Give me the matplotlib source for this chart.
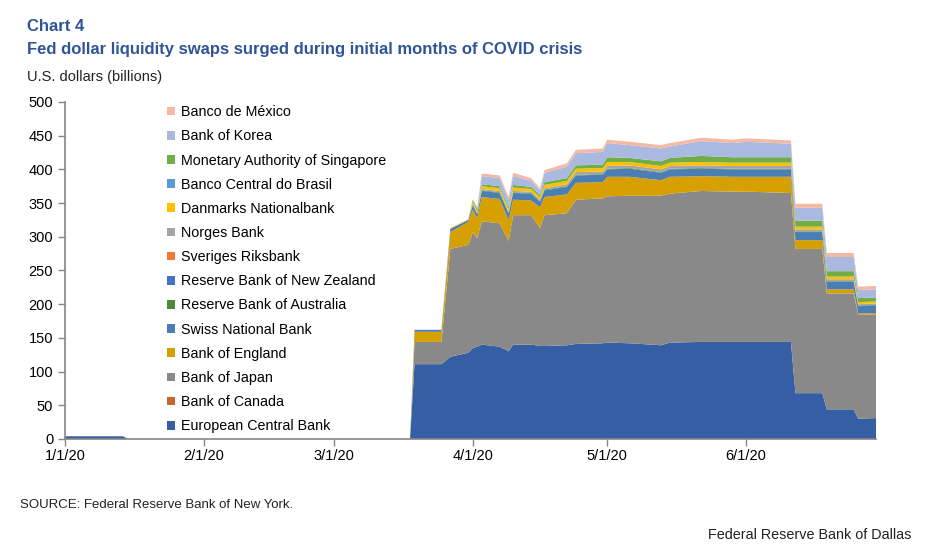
import pandas as pd
import matplotlib
matplotlib.use("Agg")
import matplotlib.pyplot as plt
from matplotlib.patches import Patch

plt.rcParams['font.family'] = ['Liberation Sans', 'DejaVu Sans']

# dates of the observations (Excel joins them with straight lines)
dates = pd.to_datetime([
    "2020-01-01", "2020-01-14", "2020-01-15", "2020-03-18", "2020-03-19",
    "2020-03-25", "2020-03-27", "2020-03-31", "2020-04-01", "2020-04-02",
    "2020-04-03", "2020-04-07", "2020-04-09", "2020-04-10", "2020-04-14",
    "2020-04-16", "2020-04-17", "2020-04-22", "2020-04-24", "2020-04-30",
    "2020-05-01", "2020-05-06", "2020-05-13", "2020-05-15", "2020-05-22",
    "2020-05-29", "2020-06-01", "2020-06-11", "2020-06-12", "2020-06-18",
    "2020-06-19", "2020-06-25", "2020-06-26", "2020-06-30"])

# U.S. dollars, billions
ecb = [4, 4, 0, 0, 111, 111, 122, 128, 135, 137, 140, 137, 130, 140, 140, 138, 138,
       139, 141, 142, 143, 142, 139, 143, 144, 144, 144, 144, 68, 68, 44, 44, 30, 31]
canada = [0] * 34
japan = [0, 0, 0, 0, 33, 33, 160, 160, 172, 161, 183, 183, 164, 192, 192, 175, 194,
         196, 214, 215, 217, 219, 222, 221, 224, 223, 223, 221, 214, 214, 172, 172, 154, 154]
england = [0, 0, 0, 0, 15, 15, 25, 34, 33, 30, 36, 36, 31, 23, 22, 31, 27,
           28, 25, 24, 29, 28, 23, 25, 22, 22, 22, 24, 13, 13, 6, 6, 2, 2]
swiss = [0, 0, 0, 0, 3, 3, 5, 3, 6, 6, 9, 9, 9, 10, 10, 8, 10,
         11, 11, 11, 11, 12, 11, 11, 11, 11, 11, 11, 12, 12, 11, 11, 11, 11]
australia = [0, 0, 0, 0, 0, 0, 0, 0, 2, 0, 1, 1, 1, 1, 1, 1, 1,
             1, 1, 1, 1, 1, 1, 1, 1, 1, 1, 1, 1, 1, 1, 1, 1, 1]
new_zealand = [0] * 34
sweden = [0] * 34
norway = [0, 0, 0, 0, 0, 0, 0, 0, 1, 1, 2, 2, 2, 2, 2, 2, 2,
          3, 4, 4, 4, 4, 4, 4, 4, 4, 4, 4, 3, 3, 3, 3, 2, 2]
denmark = [0, 0, 0, 0, 0, 0, 1, 1, 3, 3, 4, 4, 4, 5, 4, 4, 5,
           5, 5, 5, 6, 5, 5, 5, 5, 5, 5, 5, 4, 4, 4, 4, 3, 3]
brazil = [0] * 34
singapore = [0, 0, 0, 0, 0, 0, 0, 0, 3, 3, 3, 3, 3, 4, 3, 3, 4,
             4, 5, 5, 7, 6, 7, 7, 9, 8, 8, 8, 9, 9, 8, 8, 6, 6]
korea = [0, 0, 0, 0, 0, 0, 0, 0, 0, 3, 12, 12, 11, 13, 9, 7, 14,
         17, 18, 19, 21, 19, 19, 17, 22, 21, 23, 20, 19, 19, 21, 21, 12, 12]
mexico = [0, 0, 0, 0, 0, 0, 0, 0, 0, 0, 4, 4, 4, 5, 4, 3, 4,
          5, 5, 5, 5, 5, 5, 5, 5, 5, 5, 5, 6, 6, 6, 6, 5, 5]

series = [ecb, canada, japan, england, swiss, australia, new_zealand, sweden,
          norway, denmark, brazil, singapore, korea, mexico]
names = ["European Central Bank", "Bank of Canada", "Bank of Japan", "Bank of England",
         "Swiss National Bank", "Reserve Bank of Australia", "Reserve Bank of New Zealand",
         "Sveriges Riksbank", "Norges Bank", "Danmarks Nationalbank",
         "Banco Central do Brasil", "Monetary Authority of Singapore", "Bank of Korea",
         "Banco de México"]
colors = ["#355EA5", "#C8642D", "#898989", "#D6A100", "#4A7EB5", "#4F8A3A", "#4472C4",
          "#ED7D31", "#A5A5A5", "#FFC000", "#5B9BD5", "#70AD47", "#A9B9E0", "#F4B8A6"]

tick_dates = pd.to_datetime(["2020-01-01", "2020-02-01", "2020-03-01",
                             "2020-04-01", "2020-05-01", "2020-06-01"])
tick_labels = ["1/1/20", "2/1/20", "3/1/20", "4/1/20", "5/1/20", "6/1/20"]

title_blue = "#2F5597"
axis_grey = "#868686"

fig = plt.figure(figsize=(9.38, 5.51), dpi=100)
ax = fig.add_axes([0.0693, 0.2033, 0.8647, 0.6116])

ax.stackplot(dates, *series, colors=colors, linewidth=0)

ax.set_xlim(pd.Timestamp("2020-01-01"), pd.Timestamp("2020-06-30"))
ax.set_ylim(0, 500)
ax.set_yticks(range(0, 501, 50))
ax.set_xticks(tick_dates)
ax.set_xticklabels(tick_labels)

for s in ["top", "right"]:
    ax.spines[s].set_visible(False)
for s in ["left", "bottom"]:
    ax.spines[s].set_color(axis_grey)
    ax.spines[s].set_linewidth(1.2)
ax.tick_params(axis="both", colors=axis_grey, labelcolor="black", labelsize=10.5,
               length=5, width=1)
ax.tick_params(axis="x", pad=2.5)

handles = [Patch(facecolor=c, edgecolor="none") for c in colors]
fig.legend(handles[::-1], names[::-1], loc="upper left", bbox_to_anchor=(0.178, 0.809),
           frameon=False, fontsize=10.3, handlelength=0.55, handleheight=0.55,
           handletextpad=0.45, labelspacing=0.71, borderpad=0, borderaxespad=0)

fig.text(0.029, 0.952, "Chart 4", fontsize=12, fontweight="bold", color=title_blue,
         va="center")
fig.text(0.029, 0.91, "Fed dollar liquidity swaps surged during initial months of COVID crisis",
         fontsize=12, fontweight="bold", color=title_blue, va="center")
fig.text(0.029, 0.86, "U.S. dollars (billions)", fontsize=10.5, color="#222222", va="center")
fig.text(0.021, 0.083, "SOURCE: Federal Reserve Bank of New York.", fontsize=9.5,
         color="#222222", va="center")
fig.text(0.972, 0.029, "Federal Reserve Bank of Dallas", fontsize=10.4, color="#222222",
         va="center", ha="right")

fig.savefig("out.png", dpi=100)
